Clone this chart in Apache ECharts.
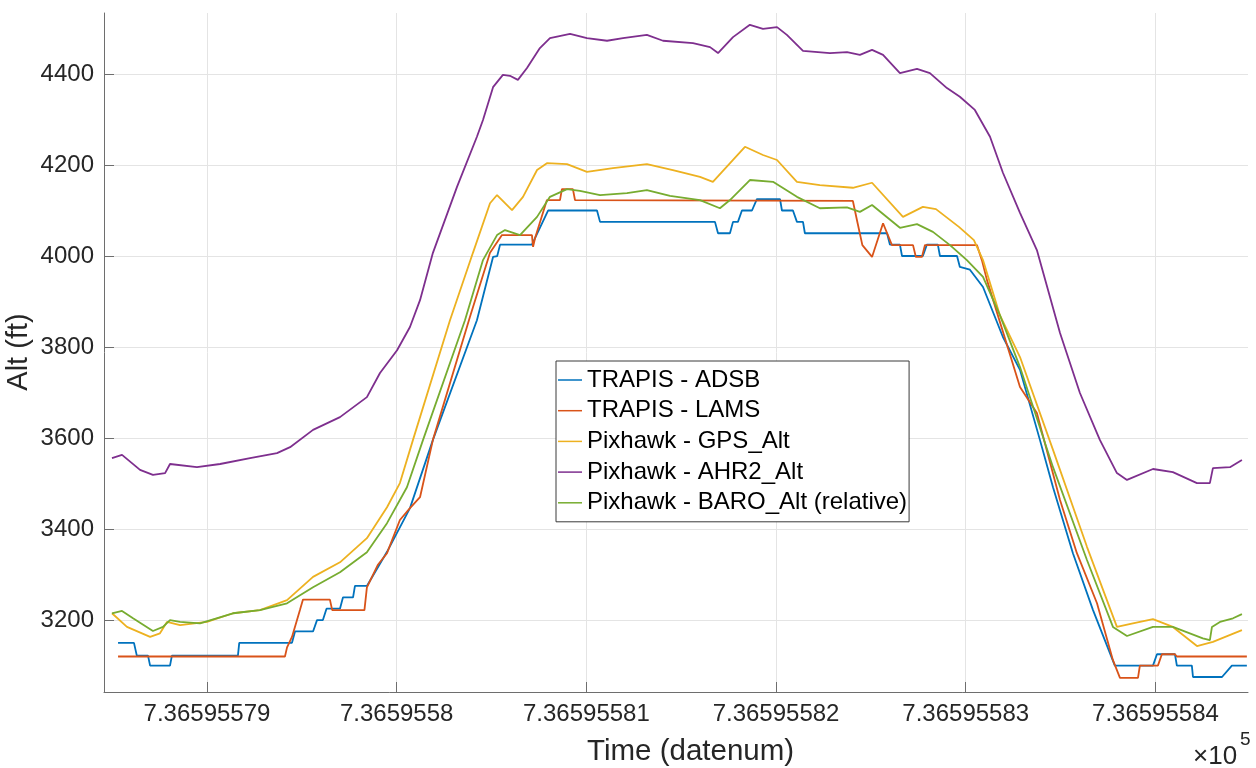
<!DOCTYPE html>
<html>
<head>
<meta charset="utf-8">
<script src="https://cdn.jsdelivr.net/npm/echarts@6/dist/echarts.min.js"></script>
<style>
html,body{margin:0;padding:0;background:#fff;}
#chart{width:1256px;height:768px;}
</style>
</head>
<body>
<div id="chart"></div>
<script>
// x values: offset t where datenum = (7.36595579 + t*1e-8) * 1e5
const xTickValues = [0, 1, 2, 3, 4, 5];
const xTickLabels = ['7.36595579', '7.3659558', '7.36595581', '7.36595582', '7.36595583', '7.36595584'];
const yTickValues = [3200, 3400, 3600, 3800, 4000, 4200, 4400];
const seriesNames = ['TRAPIS - ADSB', 'TRAPIS - LAMS', 'Pixhawk - GPS_Alt', 'Pixhawk - AHR2_Alt', 'Pixhawk - BARO_Alt (relative)'];

const adsb = [[-0.469,3150],[-0.385,3150],[-0.370,3122],[-0.311,3122],[-0.300,3100],[-0.195,3100],[-0.185,3122],[0.163,3122],[0.170,3150],[0.448,3150],[0.464,3175],[0.559,3175],[0.580,3200],[0.611,3200],[0.630,3225],[0.701,3225],[0.717,3250],[0.770,3250],[0.780,3275],[0.843,3275],[0.949,3350],[1.070,3446],[1.191,3596],[1.423,3859],[1.508,3998],[1.530,4000],[1.545,4025],[1.713,4025],[1.798,4100],[2.056,4100],[2.072,4075],[2.678,4075],[2.694,4050],[2.757,4050],[2.773,4075],[2.799,4075],[2.820,4100],[2.873,4100],[2.899,4125],[3.021,4125],[3.031,4100],[3.089,4100],[3.110,4075],[3.142,4075],[3.152,4050],[3.585,4050],[3.600,4025],[3.653,4025],[3.664,4000],[3.774,4000],[3.795,4025],[3.853,4025],[3.864,4000],[3.954,4000],[3.969,3976],[4.022,3970],[4.091,3932],[4.196,3822],[4.286,3750],[4.391,3596],[4.460,3492],[4.565,3347],[4.671,3222],[4.786,3100],[4.987,3100],[5.008,3125],[5.103,3125],[5.113,3100],[5.192,3100],[5.198,3075],[5.351,3075],[5.403,3100],[5.482,3100]];

const lams = [[-0.469,3120],[0.411,3120],[0.422,3140],[0.448,3163],[0.490,3222],[0.506,3245],[0.648,3245],[0.660,3222],[0.830,3222],[0.843,3272],[0.900,3321],[0.949,3347],[1.017,3420],[1.070,3446],[1.123,3470],[1.191,3596],[1.386,3866],[1.492,4007],[1.555,4046],[1.713,4046],[1.719,4020],[1.730,4040],[1.792,4123],[1.861,4123],[1.871,4147],[1.929,4147],[1.940,4123],[3.405,4121],[3.430,4072],[3.455,4024],[3.506,3998],[3.564,4072],[3.611,4024],[3.722,4024],[3.737,3998],[3.769,3998],[3.785,4024],[4.059,4024],[4.085,3991],[4.112,3947],[4.286,3712],[4.375,3655],[4.497,3464],[4.586,3347],[4.692,3237],[4.776,3112],[4.813,3073],[4.908,3073],[4.918,3100],[5.013,3100],[5.034,3125],[5.103,3125],[5.113,3120],[5.482,3120]];

const gps = [[-0.501,3215],[-0.422,3185],[-0.300,3163],[-0.248,3171],[-0.211,3196],[-0.142,3189],[0,3196],[0.137,3215],[0.279,3222],[0.422,3244],[0.559,3295],[0.701,3327],[0.843,3380],[0.949,3448],[1.017,3501],[1.086,3596],[1.281,3859],[1.402,4007],[1.492,4116],[1.529,4134],[1.608,4101],[1.666,4130],[1.740,4189],[1.792,4204],[1.898,4202],[2.003,4185],[2.140,4193],[2.319,4202],[2.456,4189],[2.599,4174],[2.667,4163],[2.836,4240],[2.931,4222],[3.005,4211],[3.110,4163],[3.231,4156],[3.405,4150],[3.506,4161],[3.669,4086],[3.774,4108],[3.843,4103],[3.964,4064],[4.043,4035],[4.091,3991],[4.180,3870],[4.286,3778],[4.460,3574],[4.639,3361],[4.797,3185],[4.881,3193],[4.987,3202],[5.092,3185],[5.219,3143],[5.303,3152],[5.456,3178]];

const ahr2 = [[-0.501,3556],[-0.448,3563],[-0.353,3530],[-0.285,3519],[-0.221,3523],[-0.195,3543],[-0.053,3536],[0.069,3543],[0.227,3556],[0.369,3567],[0.438,3580],[0.559,3618],[0.701,3646],[0.843,3690],[0.912,3743],[1.002,3793],[1.070,3844],[1.123,3903],[1.191,4007],[1.318,4152],[1.423,4262],[1.455,4299],[1.508,4371],[1.560,4398],[1.597,4396],[1.639,4387],[1.687,4413],[1.755,4457],[1.808,4479],[1.914,4488],[2.003,4479],[2.109,4473],[2.193,4479],[2.319,4486],[2.404,4473],[2.562,4468],[2.652,4459],[2.694,4446],[2.773,4481],[2.862,4508],[2.931,4499],[3.005,4503],[3.057,4486],[3.142,4451],[3.284,4446],[3.374,4448],[3.442,4442],[3.506,4453],[3.564,4442],[3.653,4402],[3.743,4411],[3.811,4402],[3.901,4369],[3.969,4350],[4.048,4321],[4.128,4262],[4.196,4183],[4.286,4095],[4.375,4013],[4.497,3831],[4.602,3699],[4.707,3596],[4.797,3523],[4.850,3508],[4.987,3532],[5.092,3525],[5.219,3501],[5.287,3501],[5.303,3534],[5.393,3536],[5.456,3552]];

const baro = [[-0.501,3215],[-0.448,3220],[-0.390,3204],[-0.285,3176],[-0.232,3185],[-0.195,3200],[-0.142,3196],[-0.037,3193],[0.137,3215],[0.279,3222],[0.422,3237],[0.559,3272],[0.701,3305],[0.843,3349],[0.949,3413],[1.054,3492],[1.139,3596],[1.360,3859],[1.455,3991],[1.529,4046],[1.571,4057],[1.650,4046],[1.740,4086],[1.808,4130],[1.898,4147],[1.966,4143],[2.072,4134],[2.214,4138],[2.319,4145],[2.441,4132],[2.599,4123],[2.704,4105],[2.757,4123],[2.862,4167],[2.984,4163],[3.110,4130],[3.231,4105],[3.374,4107],[3.442,4097],[3.506,4112],[3.653,4062],[3.743,4070],[3.827,4053],[3.917,4024],[4.006,3991],[4.091,3954],[4.180,3870],[4.286,3756],[4.460,3536],[4.639,3332],[4.776,3185],[4.850,3165],[4.987,3185],[5.092,3185],[5.250,3160],[5.287,3156],[5.298,3185],[5.340,3196],[5.409,3204],[5.456,3213]];

const colors = ['#0072BD', '#D95319', '#EDB120', '#7E2F8E', '#77AC30'];
const allData = [adsb, lams, gps, ahr2, baro];
const FONT = "'Liberation Sans', Arial, sans-serif";
const TXT = '#262626';

const chart = echarts.init(document.getElementById('chart'), null, {renderer: 'canvas'});
chart.setOption({
  animation: false,
  backgroundColor: '#ffffff',
  color: colors,
  grid: {left: 104, right: 8, top: 13, bottom: 76, containLabel: false},
  xAxis: {
    type: 'value', min: -0.543, max: 5.488,
    axisLine: {show: true, onZero: false, lineStyle: {color: '#6e6e6e', width: 1}},
    axisTick: {show: true, inside: true, length: 10, customValues: xTickValues, lineStyle: {color: '#6e6e6e'}},
    axisLabel: {show: true, customValues: xTickValues, margin: 10, fontFamily: FONT, fontSize: 24, color: TXT,
      formatter: v => { const i = xTickValues.indexOf(Math.round(v)); return i >= 0 ? xTickLabels[i] : ''; }},
    splitLine: {show: true, lineStyle: {color: '#e4e4e4', width: 1}}
  },
  yAxis: {
    type: 'value', min: 3042, max: 4534,
    axisLine: {show: true, onZero: false, lineStyle: {color: '#6e6e6e', width: 1}},
    axisTick: {show: true, inside: true, length: 10, customValues: yTickValues, lineStyle: {color: '#6e6e6e'}},
    axisLabel: {show: true, customValues: yTickValues, margin: 10, fontFamily: FONT, fontSize: 24, color: TXT,
      formatter: v => String(Math.round(v))},
    splitLine: {show: true, lineStyle: {color: '#e4e4e4', width: 1}}
  },
  legend: {
    show: true, orient: 'vertical', left: 556, top: 361,
    padding: [7, 2, 7, 2], itemGap: 6.7, itemWidth: 24, itemHeight: 1.5, icon: 'rect',
    borderColor: '#3a3a3a', borderWidth: 1, backgroundColor: '#ffffff',
    textStyle: {fontFamily: FONT, fontSize: 24, color: '#000', lineHeight: 24},
    data: seriesNames
  },
  graphic: [
    {type: 'text', left: 587, top: 737, style: {text: 'Time (datenum)', font: '29.5px ' + FONT, fill: TXT}},
    {type: 'text', x: 19, y: 352, rotation: Math.PI / 2, style: {text: 'Alt (ft)', font: '29px ' + FONT, fill: TXT, align: 'center', verticalAlign: 'middle'}},
    {type: 'text', x: 1193, y: 757, style: {text: '×10', font: '26px ' + FONT, fill: TXT, verticalAlign: 'middle'}},
    {type: 'text', x: 1240, y: 740, style: {text: '5', font: '19px ' + FONT, fill: TXT, verticalAlign: 'middle'}}
  ],
  series: seriesNames.map((n, i) => ({
    name: n, type: 'line', data: allData[i], showSymbol: false, symbol: 'none',
    lineStyle: {width: 1.8, color: colors[i]}, itemStyle: {color: colors[i]}, z: 2 + i
  }))
});
</script>
</body>
</html>
